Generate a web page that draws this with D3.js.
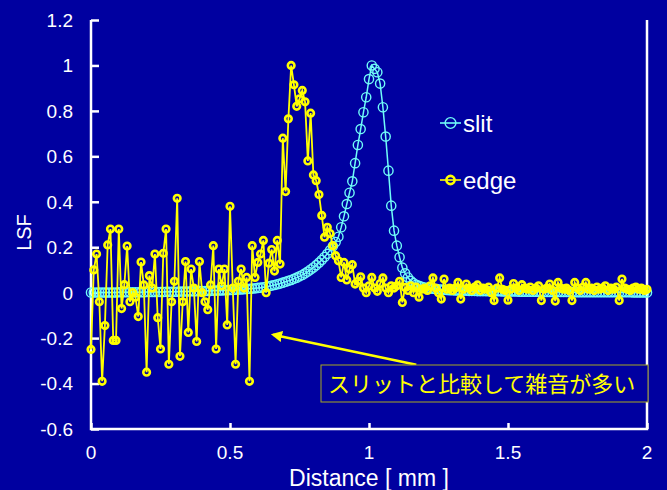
<!DOCTYPE html>
<html>
<head>
<meta charset="utf-8">
<script src="https://cdn.jsdelivr.net/npm/d3@7"></script>
<style>
  body { margin: 0; background: #0000a0; }
  svg { display: block; font-family: "Liberation Sans", Arial, sans-serif; }
</style>
</head>
<body>
<div id="chart"></div>
<script>
// Sampling step along the distance axis (mm)
const step = 0.01;

// LSF measured with a slit (0.00 .. 2.00 mm)
const slitValues = [
  0.001, 0.001, 0.001, 0.001, 0.001, 0.001, 0.001, 0.001, 0.001, 0.001,
  0.002, 0.002, 0.002, 0.002, 0.002, 0.002, 0.002, 0.002, 0.002, 0.002,
  0.003, 0.003, 0.003, 0.003, 0.003, 0.003, 0.003, 0.004, 0.004, 0.004,
  0.004, 0.004, 0.005, 0.005, 0.005, 0.005, 0.006, 0.006, 0.006, 0.007,
  0.007, 0.007, 0.008, 0.008, 0.009, 0.009, 0.010, 0.010, 0.011, 0.011,
  0.012, 0.012, 0.013, 0.014, 0.014, 0.015, 0.016, 0.017, 0.018, 0.019,
  0.021, 0.022, 0.024, 0.026, 0.028, 0.031, 0.034, 0.037, 0.040, 0.044,
  0.048, 0.052, 0.056, 0.061, 0.066, 0.072, 0.078, 0.085, 0.093, 0.102,
  0.111, 0.121, 0.132, 0.144, 0.157, 0.171, 0.187, 0.204, 0.223, 0.246,
  0.288, 0.336, 0.390, 0.440, 0.490, 0.570, 0.650, 0.720, 0.794, 0.860,
  0.940, 1.000, 0.985, 0.970, 0.920, 0.816, 0.687, 0.537, 0.383, 0.273,
  0.207, 0.156, 0.110, 0.085, 0.067, 0.052, 0.042, 0.035, 0.030, 0.026,
  0.023, 0.021, 0.019, 0.017, 0.016, 0.015, 0.014, 0.013, 0.012, 0.011,
  0.011, 0.010, 0.010, 0.009, 0.009, 0.009, 0.008, 0.008, 0.008, 0.007,
  0.007, 0.007, 0.007, 0.006, 0.006, 0.006, 0.006, 0.006, 0.005, 0.005,
  0.005, 0.005, 0.005, 0.005, 0.004, 0.004, 0.004, 0.004, 0.004, 0.004,
  0.004, 0.004, 0.003, 0.003, 0.003, 0.003, 0.003, 0.003, 0.003, 0.003,
  0.003, 0.003, 0.003, 0.003, 0.002, 0.002, 0.002, 0.002, 0.002, 0.002,
  0.002, 0.002, 0.002, 0.002, 0.002, 0.002, 0.002, 0.002, 0.002, 0.002,
  0.002, 0.002, 0.002, 0.002, 0.002, 0.001, 0.001, 0.001, 0.001, 0.001,
  0.001
];

// LSF measured with an edge (0.00 .. 2.00 mm)
const edgeValues = [
  -0.250, 0.100, 0.170, -0.040, -0.390, -0.145, 0.210, 0.280, -0.210, -0.210,
  0.280, -0.070, 0.035, 0.205, -0.040, 0.000, -0.020, -0.105, 0.135, 0.034,
  -0.350, 0.075, 0.020, 0.170, -0.110, -0.248, 0.173, 0.280, -0.315, -0.040,
  0.050, 0.415, -0.280, -0.040, 0.137, -0.175, 0.104, 0.020, -0.215, 0.137,
  0.000, -0.040, -0.075, 0.034, 0.207, -0.248, 0.104, 0.030, 0.104, -0.142,
  0.380, 0.020, -0.315, 0.050, 0.104, 0.020, 0.067, -0.390, 0.207, 0.067,
  0.133, 0.170, 0.230, 0.000, 0.130, 0.190, 0.095, 0.230, 0.126, 0.680,
  0.445, 0.765, 1.000, 0.915, 0.820, 0.853, 0.890, 0.840, 0.580, 0.790,
  0.518, 0.493, 0.432, 0.340, 0.244, 0.288, 0.260, 0.207, 0.163, 0.140,
  0.067, 0.133, 0.056, 0.104, 0.123, 0.038, 0.050, 0.070, 0.020, 0.000,
  0.030, 0.067, 0.020, 0.006, 0.040, 0.065, 0.020, 0.000, 0.030, 0.020,
  0.030, 0.050, -0.043, 0.023, 0.010, 0.030, 0.000, 0.025, -0.020, 0.015,
  0.020, 0.010, 0.030, 0.065, 0.020, 0.000, -0.028, 0.060, 0.015, 0.020,
  0.010, 0.020, 0.045, -0.028, 0.015, 0.038, 0.020, 0.010, 0.025, 0.034,
  0.010, 0.020, 0.015, 0.025, 0.000, -0.035, 0.020, 0.065, 0.015, 0.010,
  -0.033, 0.015, 0.040, 0.020, 0.010, 0.035, 0.020, 0.015, 0.025, 0.010,
  0.020, 0.030, -0.035, 0.015, 0.020, 0.038, 0.010, -0.037, 0.045, 0.020,
  0.015, 0.020, 0.010, -0.035, 0.045, 0.020, 0.010, 0.025, 0.045, 0.015,
  0.020, 0.010, 0.025, 0.015, 0.020, 0.030, 0.010, 0.020, 0.015, 0.025,
  -0.035, 0.060, 0.020, 0.015, 0.010, 0.020, 0.025, 0.015, 0.020, 0.010,
  0.015
];

const xTicks = [0, 0.5, 1, 1.5, 2];
const yTicks = [-0.6, -0.4, -0.2, 0, 0.2, 0.4, 0.6, 0.8, 1, 1.2];

const note = "スリットと比較して雑音が多い";
const noteArrow = { from: [1.17, -0.317], to: [0.655, -0.185] };

const W = 667, H = 490;
const plot = { left: 91, right: 647, top: 20, bottom: 429 };

const slitColor = "#70fcf8";
const edgeColor = "#ffff00";

const svg = d3.select("#chart")
  .append("svg")
    .attr("width", W)
    .attr("height", H);

svg.append("rect")
  .attr("width", W)
  .attr("height", H)
  .attr("fill", "#0000a0");

const x = d3.scaleLinear().domain([0, 2]).range([plot.left, plot.right]);
const y = d3.scaleLinear().domain([-0.6, 1.2]).range([plot.bottom, plot.top]);

const toPoints = vals => vals.map((v, i) => ({ d: +(i * step).toFixed(2), v }));
const slit = toPoints(slitValues);
const edge = toPoints(edgeValues);

// Axes (ticks point inwards, labels drawn separately)
const yAxis = svg.append("g")
  .attr("transform", `translate(${plot.left},0)`)
  .call(d3.axisRight(y).tickValues(yTicks).tickSize(8).tickFormat(""));

const xAxis = svg.append("g")
  .attr("transform", `translate(0,${plot.bottom})`)
  .call(d3.axisTop(x).tickValues(xTicks).tickSize(6).tickFormat(""));

[yAxis, xAxis].forEach(g => {
  g.select(".domain").remove();
  g.selectAll(".tick line").attr("stroke", "#fff").attr("stroke-width", 2.5);
});

// frame lines: left, bottom, right
svg.append("path")
  .attr("d", `M${plot.left},${plot.top}V${plot.bottom}H${plot.right}V${plot.top}`)
  .attr("fill", "none")
  .attr("stroke", "#fff")
  .attr("stroke-width", 2.5);

// tick labels (plain hyphen for negatives)
svg.selectAll(".ylab")
  .data(yTicks)
  .join("text")
    .attr("class", "ylab")
    .attr("x", 73)
    .attr("y", d => y(d))
    .attr("dy", "0.36em")
    .attr("text-anchor", "end")
    .attr("fill", "#fff")
    .style("font-size", "19px")
    .text(d => String(d));

svg.selectAll(".xlab")
  .data(xTicks)
  .join("text")
    .attr("class", "xlab")
    .attr("x", d => x(d))
    .attr("y", 459)
    .attr("text-anchor", "middle")
    .attr("fill", "#fff")
    .style("font-size", "19px")
    .text(d => String(d));

svg.append("text")
  .attr("x", (plot.left + plot.right) / 2)
  .attr("y", 486)
  .attr("text-anchor", "middle")
  .attr("fill", "#fff")
  .style("font-size", "23px")
  .text("Distance [ mm ]");

svg.append("text")
  .attr("transform", `translate(31,${(plot.top + plot.bottom) / 2 + 8}) rotate(-90)`)
  .attr("text-anchor", "middle")
  .attr("fill", "#fff")
  .style("font-size", "20px")
  .text("LSF");

// Series
const line = d3.line().x(p => x(p.d)).y(p => y(p.v));

function drawSeries(data, color, lw, r, sw) {
  const g = svg.append("g");
  g.append("path")
    .datum(data)
    .attr("fill", "none")
    .attr("stroke", color)
    .attr("stroke-width", lw)
    .attr("d", line);
  g.selectAll("circle")
    .data(data)
    .join("circle")
      .attr("cx", p => x(p.d))
      .attr("cy", p => y(p.v))
      .attr("r", r)
      .attr("fill", "none")
      .attr("stroke", color)
      .attr("stroke-width", sw);
}

drawSeries(slit, slitColor, 1.5, 4.6, 1.4);
drawSeries(edge, edgeColor, 1.8, 3.3, 2.6);

// Legend
[["slit", slitColor, 123, 4.6, 1.4], ["edge", edgeColor, 180, 3.3, 2.6]].forEach(([label, color, ly, r, sw]) => {
  svg.append("line")
    .attr("x1", 440).attr("x2", 461)
    .attr("y1", ly).attr("y2", ly)
    .attr("stroke", color).attr("stroke-width", 1.6);
  svg.append("circle")
    .attr("cx", 450.5).attr("cy", ly).attr("r", r + 0.8)
    .attr("fill", "none").attr("stroke", color).attr("stroke-width", sw);
  svg.append("text")
    .attr("x", 463).attr("y", ly + 9)
    .attr("fill", "#fff")
    .style("font-size", "24px")
    .text(label);
});

// Annotation box and arrow
svg.append("defs").append("marker")
  .attr("id", "head")
  .attr("viewBox", "0 0 10 10")
  .attr("refX", 8).attr("refY", 5)
  .attr("markerWidth", 4.5).attr("markerHeight", 4.5)
  .attr("orient", "auto")
  .append("path")
    .attr("d", "M0,0L10,5L0,10Z")
    .attr("fill", edgeColor);

svg.append("line")
  .attr("x1", x(noteArrow.from[0])).attr("y1", y(noteArrow.from[1]))
  .attr("x2", x(noteArrow.to[0])).attr("y2", y(noteArrow.to[1]))
  .attr("stroke", edgeColor)
  .attr("stroke-width", 2.5)
  .attr("marker-end", "url(#head)");

svg.append("rect")
  .attr("x", 321).attr("y", 365)
  .attr("width", 327).attr("height", 37)
  .attr("fill", "#0000a0")
  .attr("stroke", "#a8a820")
  .attr("stroke-width", 1);

svg.append("text")
  .attr("x", 328).attr("y", 392)
  .attr("fill", edgeColor)
  .style("font-family", "'Noto Sans CJK JP', sans-serif")
  .style("font-size", "22px")
  .text(note);
</script>
</body>
</html>
